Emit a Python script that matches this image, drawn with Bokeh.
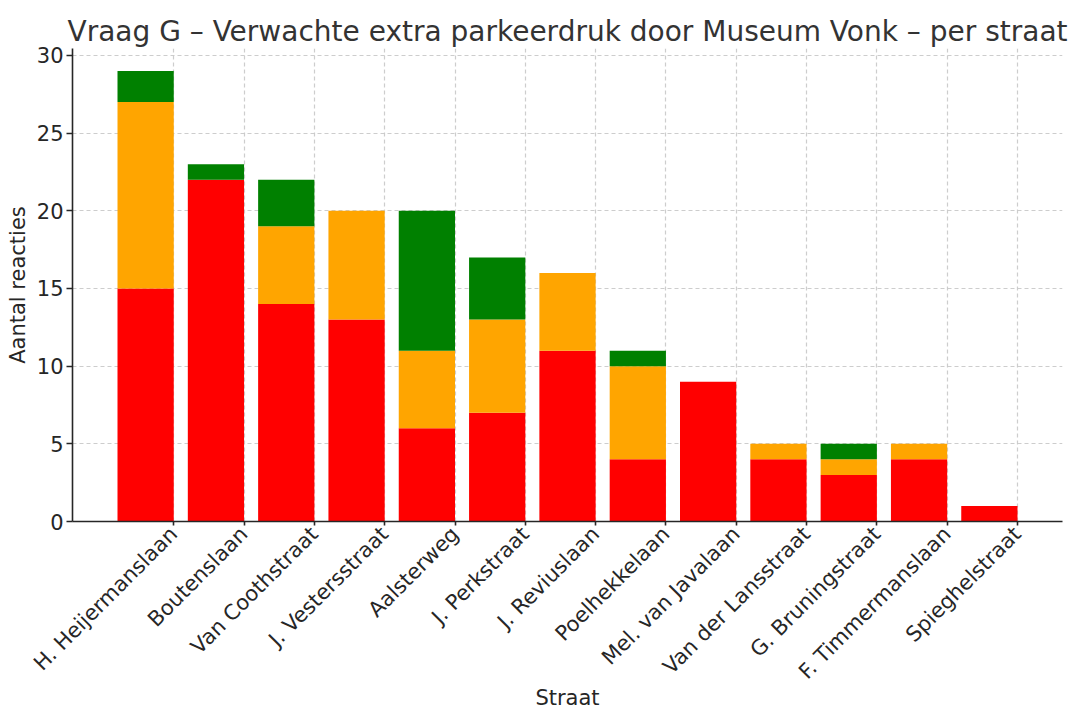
import math
from bokeh.plotting import figure
from bokeh.models import ColumnDataSource, Range1d, FixedTicker
from bokeh.embed import file_html
from bokeh.resources import INLINE

streets = ["H. Heijermanslaan", "Boutenslaan", "Van Coothstraat", "J. Vestersstraat",
           "Aalsterweg", "J. Perkstraat", "J. Reviuslaan", "Poelhekkelaan",
           "Mel. van Javalaan", "Van der Lansstraat", "G. Bruningstraat",
           "F. Timmermanslaan", "Spieghelstraat"]
rood = [15, 22, 14, 13, 6, 7, 11, 4, 9, 4, 3, 4, 1]
oranje = [12, 0, 5, 7, 5, 6, 5, 6, 0, 1, 1, 1, 0]
groen = [2, 1, 3, 0, 9, 4, 0, 1, 0, 0, 1, 0, 0]
y_ticks = [0, 5, 10, 15, 20, 25, 30]

n = len(streets)
ticks = list(range(n))
src = ColumnDataSource(dict(x=[i - 0.4 for i in ticks], rood=rood, oranje=oranje, groen=groen))

totals = [r + o + g for r, o, g in zip(rood, oranje, groen)]
ymax = max(totals) * 1.05

FONT = "DejaVu Sans"
TXT = "#262626"

p = figure(width=1068, height=713, output_backend="svg", toolbar_location=None,
           x_range=Range1d(-1.44, n - 1 + 0.64), y_range=Range1d(0, ymax),
           min_border_left=72, min_border_right=6, min_border_top=48, min_border_bottom=192)

p.vbar_stack(["rood", "oranje", "groen"], x="x", width=0.8, source=src,
             color=["#ff0000", "#ffa500", "#008000"], line_color=None)

p.title.text = "Vraag G \u2013 Verwachte extra parkeerdruk door Museum Vonk \u2013 per straat"
p.title.align = "center"
p.title.text_font = FONT
p.title.text_font_size = "28px"
p.title.text_font_style = "normal"
p.title.text_color = "#333333"
p.title.standoff = 2
p.title.offset = 0

p.outline_line_color = None

p.xaxis.ticker = FixedTicker(ticks=ticks)
p.xaxis.major_label_overrides = {i: s for i, s in enumerate(streets)}
p.xaxis.major_label_orientation = math.pi / 4
p.yaxis.ticker = FixedTicker(ticks=y_ticks)

for ax in (p.xaxis, p.yaxis):
    ax.axis_line_color = "#262626"
    ax.axis_line_width = 1.6
    ax.major_tick_line_color = "#262626"
    ax.major_tick_line_width = 1.6
    ax.major_tick_out = 6
    ax.major_tick_in = 0
    ax.minor_tick_line_color = None
    ax.major_label_text_font = FONT
    ax.major_label_text_font_size = "21px"
    ax.major_label_text_color = TXT
    ax.axis_label_text_font = FONT
    ax.axis_label_text_font_size = "21px"
    ax.axis_label_text_font_style = "normal"
    ax.axis_label_text_color = TXT

p.xaxis.major_tick_out = 4
p.xaxis.axis_label = "Straat"
p.yaxis.axis_label = "Aantal reacties"
p.xaxis.major_label_standoff = 5
p.yaxis.major_label_standoff = 3
p.xaxis.axis_label_standoff = -9
p.yaxis.axis_label_standoff = 4

for g in (p.xgrid, p.ygrid):
    g.grid_line_color = "#c8c8c8"
    g.grid_line_dash = "4 3"
    g.grid_line_width = 1.2
    g.grid_line_alpha = 0.9

open("out.html", "w").write(file_html(p, INLINE))
